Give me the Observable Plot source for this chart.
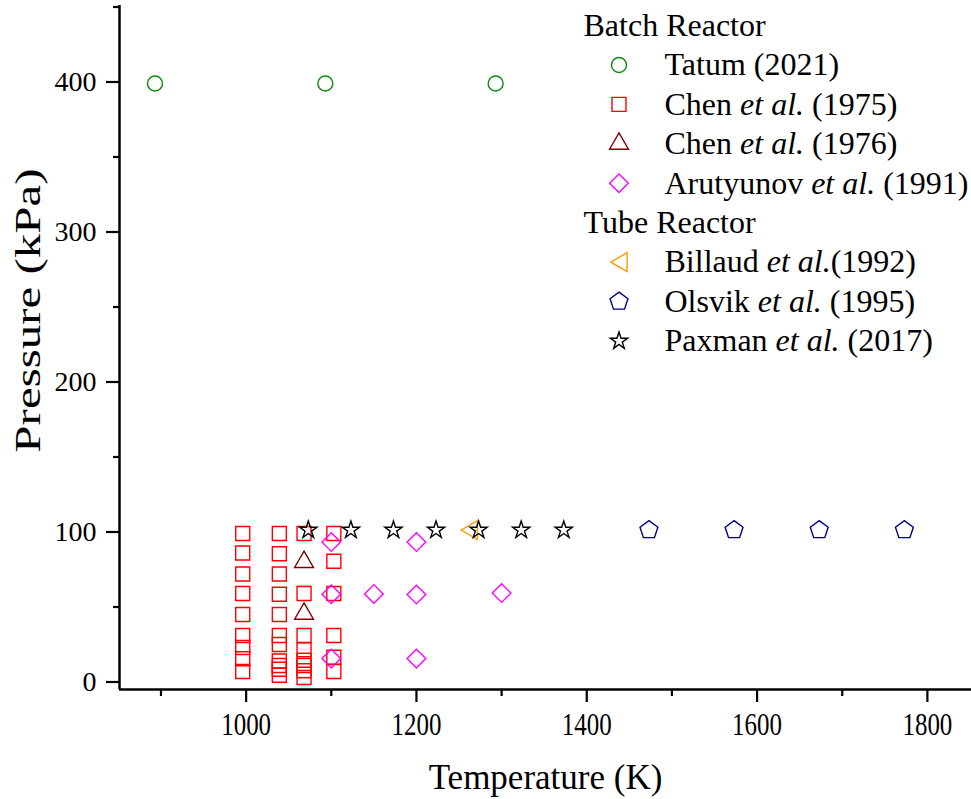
<!DOCTYPE html>
<html>
<head>
<meta charset="utf-8">
<script src="https://cdn.jsdelivr.net/npm/d3@7"></script>
<script src="https://cdn.jsdelivr.net/npm/@observablehq/plot@0.6"></script>
<style>
  html, body { margin: 0; padding: 0; background: #fff; }
  #chart { position: relative; width: 971px; height: 799px; }
  #legend { position: absolute; left: 570px; top: 0; }
</style>
</head>
<body>
<div id="chart"><div id="legend"></div></div>
<script>
// ---- data: temperature (K) and pressure (kPa) per study ----
const tatumT = [893, 1093, 1293];
const tatumP = [399, 399, 399];

const chen75T = [
  996, 996, 996, 996, 996, 996, 996, 996, 996,
  1039, 1039, 1039, 1039, 1039, 1039, 1039, 1039, 1039, 1039, 1039,
  1068, 1068, 1068, 1068, 1068, 1068, 1068, 1068,
  1103, 1103, 1103, 1103, 1103, 1103
];
const chen75P = [
  99, 86, 72, 59, 45, 31, 23, 15.5, 7,
  99, 85.5, 72, 58.5, 45, 31, 25, 14, 11, 8.5, 4.5,
  99, 59, 31, 21.5, 14.5, 11, 7.5, 3,
  99, 80.5, 59, 31, 16.5, 7
];

const chen76T = [1068, 1068];
const chen76P = [80, 45.5];

const arutyunovT = [1100, 1100, 1150, 1200, 1200, 1300, 1200, 1100];
const arutyunovP = [93.3, 58.5, 58.7, 93.3, 58.3, 59.3, 15.6, 15.6];

const billaudT = [1262];
const billaudP = [101.3];

const olsvikT = [1473, 1573, 1673, 1773];
const olsvikP = [101.3, 101.3, 101.3, 101.3];

const paxmanT = [1073, 1123, 1173, 1223, 1273, 1323, 1373];
const paxmanP = [101.3, 101.3, 101.3, 101.3, 101.3, 101.3, 101.3];

// ---- axes ----
const xTicks = [1000, 1200, 1400, 1600, 1800];
const xMinorTicks = [900, 1100, 1300, 1500, 1700];
const yTicks = [0, 100, 200, 300, 400];
const yMinorTicks = [50, 150, 250, 350, 450];
const xTitle = "Temperature (K)";
const yTitle = "Pressure (kPa)";

// ---- legend groups ----
const groupNames = ["Batch Reactor", "Tube Reactor"];
const seriesNames = [
  "Tatum (2021)", "Chen et al. (1975)", "Chen et al. (1976)", "Arutyunov et al. (1991)",
  "Billaud et al.(1992)", "Olsvik et al. (1995)", "Paxman et al. (2017)"
];
const seriesGroup = [0, 0, 0, 0, 1, 1, 1];

// ---- custom marker shapes ----
const pentagon = {
  draw(ctx, size) {
    const r = Math.sqrt(size / Math.PI);
    for (let i = 0; i < 5; i++) {
      const a = -Math.PI / 2 + i * 2 * Math.PI / 5;
      const x = r * Math.cos(a), y = r * Math.sin(a);
      i ? ctx.lineTo(x, y) : ctx.moveTo(x, y);
    }
    ctx.closePath();
  }
};
const leftTriangle = {
  draw(ctx, size) {
    const s = Math.sqrt(size / Math.PI);
    ctx.moveTo(-0.9 * s, 0);
    ctx.lineTo(0.9 * s, -1.05 * s);
    ctx.lineTo(0.9 * s, 1.05 * s);
    ctx.closePath();
  }
};

// marker styles, one per study (same order as seriesNames)
const seriesStyle = [
  {symbol: "circle",   stroke: "#0a8a0a", r: 7.5},
  {symbol: "square",   stroke: "#ff0000", r: 7.9},
  {symbol: "triangle", stroke: "#800000", r: 7},
  {symbol: "diamond2", stroke: "#ff00ff", r: 8.4},
  {symbol: leftTriangle, stroke: "#ff9a00", r: 9},
  {symbol: pentagon,   stroke: "#000080", r: 9.4},
  {symbol: "star",     stroke: "#000000", r: 5.4}
];

const seriesT = [tatumT, chen75T, chen76T, arutyunovT, billaudT, olsvikT, paxmanT];
const seriesP = [tatumP, chen75P, chen76P, arutyunovP, billaudP, olsvikP, paxmanP];

const font = "'Liberation Serif', 'Times New Roman', serif";
const xDomain = [851.3, 1851.8];
const yDomain = [-5, 451];

const dotMarks = seriesT.map((T, k) => {
  const rows = T.map((t, i) => ({T: t, P: seriesP[k][i]}));
  const st = seriesStyle[k];
  return Plot.dot(rows, {
    x: "T", y: "P", symbol: st.symbol, r: st.r,
    stroke: st.stroke, fill: "none", strokeWidth: 1.4
  });
});

const chart = Plot.plot({
  width: 971,
  height: 799,
  marginLeft: 119,
  marginRight: 0,
  marginTop: 5,
  marginBottom: 110,
  style: {fontFamily: font, background: "white", color: "black", overflow: "visible"},
  x: {domain: xDomain},
  y: {domain: yDomain},
  marks: [
    Plot.axisX(xTicks, {tickSize: 13, tickPadding: 10, fontSize: 32, strokeWidth: 2.2,
      tickFormat: d3.format("d"), label: null}),
    Plot.axisX(xMinorTicks, {tickSize: 7, tickFormat: () => "", strokeWidth: 2.2, label: null}),
    Plot.axisY(yTicks, {tickSize: 13, tickPadding: 10, fontSize: 28, strokeWidth: 2.2,
      tickFormat: d3.format("d"), label: null}),
    Plot.axisY(yMinorTicks, {tickSize: 6, tickFormat: () => "", strokeWidth: 2.2, label: null}),
    Plot.ruleX([xDomain[0]], {strokeWidth: 2.5}),
    Plot.ruleY([yDomain[0]], {strokeWidth: 2.5}),
    ...dotMarks,
    Plot.text([xTitle], {
      text: d => d, frameAnchor: "bottom", lineAnchor: "middle", textAnchor: "middle",
      dy: 88, fontSize: 35
    }),
    Plot.text([yTitle], {
      text: d => d, frameAnchor: "left", lineAnchor: "middle", textAnchor: "middle",
      rotate: -90, dx: -91, dy: -37, fontSize: 35
    })
  ]
});

// tall, narrow numerals on the temperature axis
d3.select(chart).selectAll('g[aria-label="x-axis tick label"] text').each(function () {
  const t = this.getAttribute("transform") || "";
  this.setAttribute("transform", (t + " scale(0.78,1)").trim());
});
// elongated pressure title
d3.select(chart).selectAll("text").filter(function () { return this.textContent === yTitle; })
  .each(function () {
    const t = this.getAttribute("transform") || "";
    this.setAttribute("transform", (t + " scale(1.4,1)").trim());
  });

document.getElementById("chart").prepend(chart);

// ---- legend: group headings followed by their studies ----
const legendRows = [];
let row = 0;
groupNames.forEach((g, gi) => {
  legendRows.push({row: row++, label: g, header: true});
  seriesNames.forEach((s, si) => {
    if (seriesGroup[si] === gi) legendRows.push({row: row++, label: s, header: false, k: si});
  });
});

const legend = Plot.plot({
  width: 400,
  height: 370,
  margin: 0,
  style: {fontFamily: font, background: "transparent", color: "black", overflow: "visible"},
  x: {domain: [0, 1], range: [0, 400], axis: null},
  y: {domain: [0, 8], range: [25, 340.5], axis: null},
  marks: [
    Plot.text(legendRows.filter(d => d.header), {
      y: "row", text: "label", frameAnchor: "left", dx: 13, textAnchor: "start",
      lineAnchor: "middle", fontSize: 32
    }),
    Plot.text(legendRows.filter(d => !d.header), {
      y: "row", text: "label", frameAnchor: "left", dx: 94, textAnchor: "start",
      lineAnchor: "middle", fontSize: 32
    }),
    ...legendRows.filter(d => !d.header).map(d => {
      const st = seriesStyle[d.k];
      return Plot.dot([d], {
        y: "row", frameAnchor: "left", dx: 48.5, symbol: st.symbol, r: st.r,
        stroke: st.stroke, fill: "none", strokeWidth: 1.4
      });
    })
  ]
});

// italicise "et al." inside the study names
d3.select(legend).selectAll("text").each(function () {
  const s = this.textContent;
  const i = s.indexOf("et al.");
  if (i < 0) return;
  const el = d3.select(this);
  el.text(null);
  el.append("tspan").text(s.slice(0, i));
  el.append("tspan").attr("font-style", "italic").text("et al.");
  el.append("tspan").text(s.slice(i + 6));
});

document.getElementById("legend").appendChild(legend);
</script>
</body>
</html>
